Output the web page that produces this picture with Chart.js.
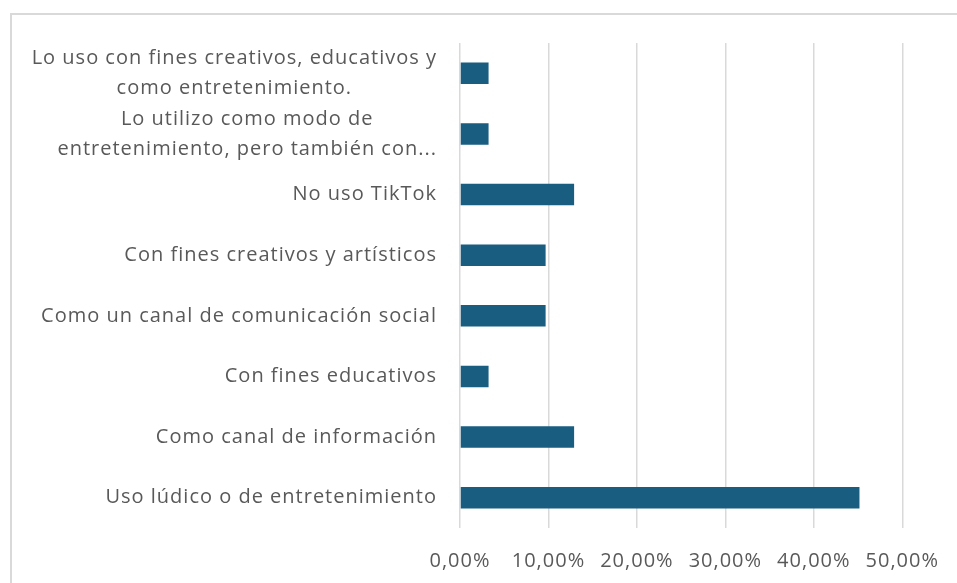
<!DOCTYPE html>
<html>
<head>
<meta charset="utf-8">
<script src="https://cdn.jsdelivr.net/npm/chart.js@4"></script>
<style>
  html, body { margin: 0; padding: 0; background: #fff; overflow: hidden; }
  #frame { position: absolute; left: 10px; top: 13px; width: 1000px; height: 620px; border: 2px solid #d9d9d9; box-sizing: border-box; }
  #wrap { position: absolute; left: 0; top: 0; width: 957px; height: 583px; }
</style>
</head>
<body>
<div id="frame"></div>
<div id="wrap"><canvas id="chart"></canvas></div>
<script>
// Categories (top to bottom) and percentage values
const categories = [
  ["Lo uso con fines creativos, educativos y", "como entretenimiento."],
  ["Lo utilizo como modo de", "entretenimiento, pero también con..."],
  "No uso TikTok",
  "Con fines creativos y artísticos",
  "Como un canal de comunicación social",
  "Con fines educativos",
  "Como canal de información",
  "Uso lúdico o de entretenimiento"
];
const values = [3.23, 3.23, 12.90, 9.68, 9.68, 3.23, 12.90, 45.16];
const xTicks = [0, 10, 20, 30, 40, 50];

const textColor = "#595959";
const fontFamily = "'Open Sans', 'Noto Sans', sans-serif";
const fontSize = 20;
const spacing = "1px";

// wider letter spacing, closer to the original font
const letterSpacing = {
  id: "letterSpacing",
  beforeDraw(chart) { chart.ctx.letterSpacing = spacing; }
};

// Draw the category labels: right aligned block, wrapped lines centred in it (like Excel)
const categoryLabels = {
  id: "categoryLabels",
  afterDraw(chart) {
    const c = chart.ctx;
    const yScale = chart.scales.y;
    const right = yScale.right - 23;
    c.save();
    c.letterSpacing = spacing;
    c.font = fontSize + "px " + fontFamily;
    c.fillStyle = textColor;
    c.textBaseline = "middle";
    c.textAlign = "center";
    categories.forEach((label, i) => {
      const lines = Array.isArray(label) ? label : [label];
      const w = Math.max(...lines.map(l => c.measureText(l).width));
      const cx = right - w / 2;
      const cy = yScale.getPixelForValue(i);
      const lh = 30;
      lines.forEach((l, j) => {
        c.fillText(l, cx, cy + (j - (lines.length - 1) / 2) * lh);
      });
    });
    c.restore();
  }
};

const ctx = document.getElementById("chart").getContext("2d");
new Chart(ctx, {
  type: "bar",
  data: {
    labels: categories,
    datasets: [{
      data: values,
      backgroundColor: "#195e80",
      barPercentage: 0.355,
      categoryPercentage: 1
    }]
  },
  options: {
    indexAxis: "y",
    responsive: true,
    maintainAspectRatio: false,
    animation: false,
    layout: { padding: { top: 43, right: 54, left: 0, bottom: 0 } },
    plugins: { legend: { display: false }, tooltip: { enabled: false } },
    scales: {
      x: {
        min: 0,
        max: 50,
        afterBuildTicks: (scale) => { scale.ticks = xTicks.map(v => ({ value: v })); },
        afterFit: (scale) => { scale.height = 55; },
        grid: { color: "#d9d9d9", lineWidth: 1.5, drawTicks: false },
        border: { display: false },
        ticks: {
          padding: 21,
          color: textColor,
          font: { family: fontFamily, size: fontSize },
          callback: (v) => v.toFixed(2).replace(".", ",") + "%"
        }
      },
      y: {
        afterFit: (scale) => { scale.width = 460; },
        grid: { display: false },
        border: { display: false },
        ticks: { display: false }
      }
    }
  },
  plugins: [letterSpacing, categoryLabels]
});
</script>
</body>
</html>
